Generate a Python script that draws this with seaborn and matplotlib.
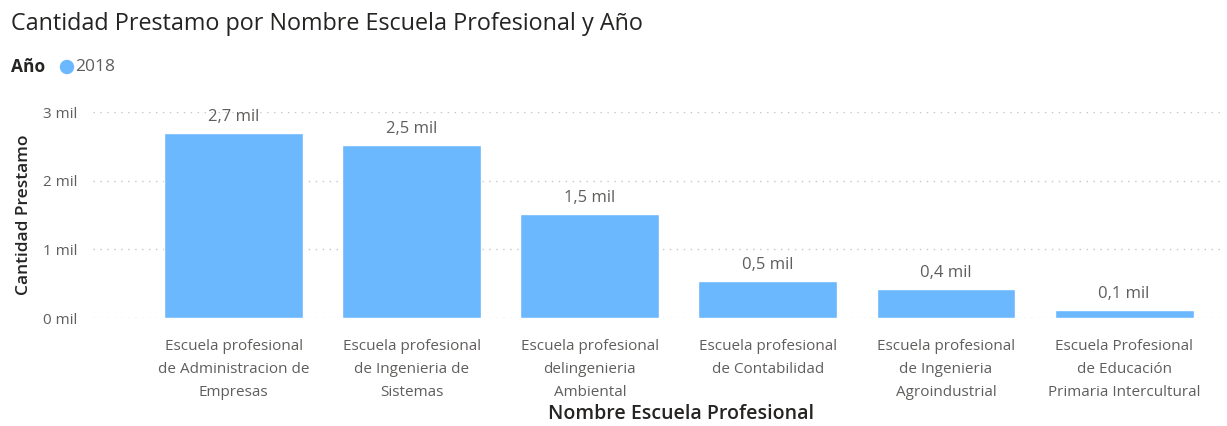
import matplotlib
matplotlib.use("Agg")
import matplotlib.pyplot as plt
import seaborn as sns
import pandas as pd
from matplotlib.ticker import FuncFormatter

categories = [
    "Escuela profesional\nde Administracion de\nEmpresas",
    "Escuela profesional\nde Ingenieria de\nSistemas",
    "Escuela profesional\ndelingenieria\nAmbiental",
    "Escuela profesional\nde Contabilidad",
    "Escuela profesional\nde Ingenieria\nAgroindustrial",
    "Escuela Profesional\nde Educación\nPrimaria Intercultural",
]
values_2018 = [2690, 2520, 1510, 540, 420, 115]
value_labels = ["2,7 mil", "2,5 mil", "1,5 mil", "0,5 mil", "0,4 mil", "0,1 mil"]
y_ticks = [0, 1000, 2000, 3000]

df = pd.DataFrame({"Escuela": categories, "Cantidad": values_2018})

sns.set_theme(style="white")
plt.rcParams["font.family"] = ["Open Sans", "DejaVu Sans"]

W, H = 1227, 426
fig = plt.figure(figsize=(W / 100, H / 100), dpi=100)
ax = fig.add_axes([93 / W, (H - 318) / H, (1222 - 93) / W, (318 - 112) / H])

bar_color = "#6CB8FF"
sns.barplot(data=df, x="Escuela", y="Cantidad", color=bar_color, width=0.78,
            saturation=1, ax=ax)

ax.set_ylim(0, 3000)
ax.set_xlim(-0.79, 5.55)
ax.set_yticks(y_ticks)
ax.yaxis.set_major_formatter(FuncFormatter(lambda v, p: f"{int(v/1000)} mil"))
ax.grid(axis="y", color="#C8C6C4", linestyle=(0, (1, 4)), linewidth=1)
ax.set_axisbelow(True)
for s in ax.spines.values():
    s.set_visible(False)
ax.tick_params(axis="both", length=0)
ax.tick_params(axis="y", labelsize=11, labelcolor="#605E5C", pad=11)
ax.tick_params(axis="x", labelsize=11, labelcolor="#605E5C", pad=15)
for lbl in ax.get_xticklabels():
    lbl.set_linespacing(1.75)

for i, (v, t) in enumerate(zip(values_2018, value_labels)):
    ax.annotate(t, (i, v), xytext=(0, 6), textcoords="offset points",
                ha="center", va="bottom", fontsize=12, color="#605E5C",
                annotation_clip=False)

ax.set_xlabel("")
ax.set_ylabel("Cantidad Prestamo", fontsize=12.5, color="#252423", labelpad=8,
              fontweight="semibold")
fig.text(681 / W, 1 - 414 / H, "Nombre Escuela Profesional", ha="center",
         va="center", fontsize=14, color="#252423", fontweight="semibold")

fig.text(11 / W, 1 - 24 / H, "Cantidad Prestamo por Nombre Escuela Profesional y Año",
         ha="left", va="center", fontsize=16.8, color="#252423", fontweight="medium")
fig.text(11 / W, 1 - 67 / H, "Año", ha="left", va="center", fontsize=12.5,
         color="#252423", fontweight="bold")
fig.patches.append(matplotlib.patches.Ellipse((67 / W, 1 - 67 / H), 13 / W, 13 / H,
                                              transform=fig.transFigure,
                                              color=bar_color))
fig.text(75 / W, 1 - 67 / H, "2018", ha="left", va="center", fontsize=12.5,
         color="#605E5C")

fig.savefig("out.png", dpi=100)
